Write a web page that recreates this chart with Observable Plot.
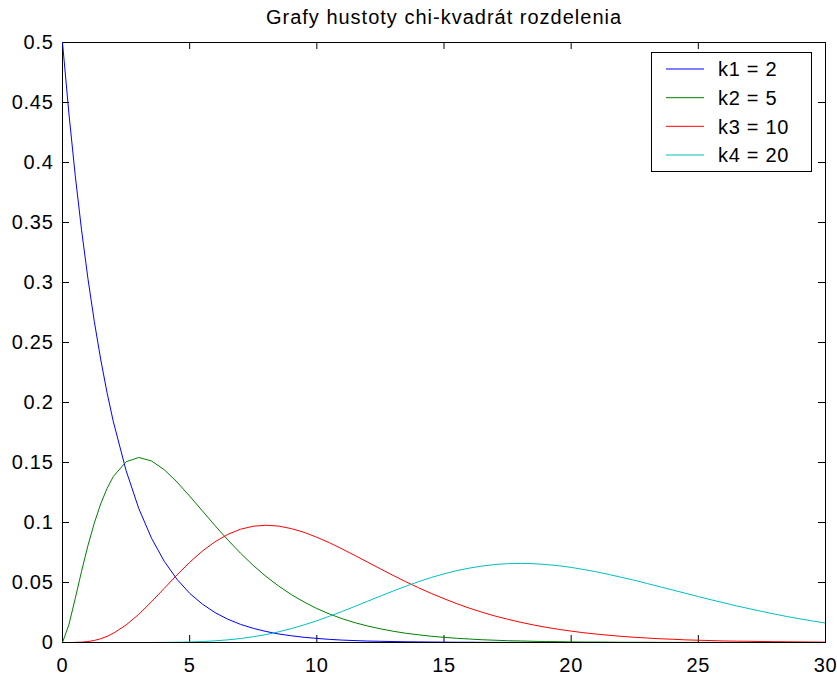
<!DOCTYPE html>
<html>
<head>
<meta charset="utf-8">
<script src="https://cdn.jsdelivr.net/npm/d3@7"></script>
<script src="https://cdn.jsdelivr.net/npm/@observablehq/plot@0.6"></script>
<style>
  body { margin: 0; background: #fff; }
  #wrap { position: relative; width: 837px; height: 676px; font-family: "Liberation Sans", Arial, sans-serif; }
  #legend { position: absolute; left: 651px; top: 52px; }
</style>
</head>
<body>
<div id="wrap"><div id="chart"></div><div id="legend"></div></div>
<script>
const title = "Grafy hustoty chi-kvadrát rozdelenia";
const seriesNames = ["k1 = 2", "k2 = 5", "k3 = 10", "k4 = 20"];
const seriesColors = ["#0000ff", "#008000", "#ff0000", "#00bfbf"];

const xTicks = [0, 5, 10, 15, 20, 25, 30];
const xTickLabels = ["0", "5", "10", "15", "20", "25", "30"];
const yTicks = [0, 0.05, 0.1, 0.15, 0.2, 0.25, 0.3, 0.35, 0.4, 0.45, 0.5];
const yTickLabels = ["0", "0.05", "0.1", "0.15", "0.2", "0.25", "0.3", "0.35", "0.4", "0.45", "0.5"];

const xs = [0, 0.25, 0.5, 0.75, 1, 1.25, 1.5, 1.75, 2,
  2.5, 3, 3.5, 4, 4.5, 5, 5.5, 6, 6.5, 7, 7.5, 8, 8.5, 9, 9.5, 10,
  10.5, 11, 11.5, 12, 12.5, 13, 13.5, 14, 14.5, 15, 15.5, 16, 16.5, 17, 17.5, 18,
  18.5, 19, 19.5, 20, 20.5, 21, 21.5, 22, 22.5, 23, 23.5, 24, 24.5, 25,
  25.5, 26, 26.5, 27, 27.5, 28, 28.5, 29, 29.5, 30];

const k1 = [0.5000, 0.4413, 0.3894, 0.3436, 0.3033, 0.2676, 0.2362, 0.2084, 0.1839,
  0.1433, 0.1116, 0.0869, 0.0677, 0.0527, 0.0410, 0.0320, 0.0249, 0.0194, 0.0151, 0.0118, 0.0092, 0.0071, 0.0056, 0.0043, 0.0034,
  0.0026, 0.0020, 0.0016, 0.0012, 0.0010, 0.0008, 0.0006, 0.0005, 0.0004, 0.0003, 0.0002, 0.0002, 0.0001, 0.0001, 0.0001, 0.0001,
  0, 0, 0, 0, 0, 0, 0, 0, 0, 0, 0, 0, 0, 0,
  0, 0, 0, 0, 0, 0, 0, 0, 0, 0];

const k2 = [0, 0.0147, 0.0366, 0.0594, 0.0807, 0.0995, 0.1154, 0.1283, 0.1384,
  0.1506, 0.1542, 0.1513, 0.1440, 0.1338, 0.1220, 0.1097, 0.0973, 0.0855, 0.0744, 0.0642, 0.0551, 0.0470, 0.0399, 0.0337, 0.0283,
  0.0237, 0.0198, 0.0165, 0.0137, 0.0114, 0.0094, 0.0077, 0.0064, 0.0052, 0.0043, 0.0035, 0.0029, 0.0023, 0.0019, 0.0015, 0.0013,
  0.0010, 0.0008, 0.0007, 0.0005, 0.0004, 0.0004, 0.0003, 0.0002, 0.0002, 0.0002, 0.0001, 0.0001, 0.0001, 0.0001,
  0.0001, 0, 0, 0, 0, 0, 0, 0, 0, 0];

const k3 = [0, 0.0000, 0.0001, 0.0003, 0.0008, 0.0017, 0.0031, 0.0051, 0.0077,
  0.0146, 0.0235, 0.0340, 0.0451, 0.0563, 0.0668, 0.0762, 0.0840, 0.0901, 0.0944, 0.0969, 0.0977, 0.0970, 0.0949, 0.0918, 0.0877,
  0.0831, 0.0779, 0.0725, 0.0669, 0.0614, 0.0559, 0.0506, 0.0456, 0.0409, 0.0365, 0.0324, 0.0286, 0.0252, 0.0221, 0.0194, 0.0169,
  0.0147, 0.0127, 0.0110, 0.0095, 0.0081, 0.0070, 0.0060, 0.0051, 0.0043, 0.0037, 0.0031, 0.0027, 0.0022, 0.0019,
  0.0016, 0.0013, 0.0011, 0.0010, 0.0008, 0.0007, 0.0006, 0.0005, 0.0004, 0.0003];

const k4 = [0, 0, 0, 0, 0, 0, 0, 0, 0,
  0.0000, 0.0000, 0.0000, 0.0001, 0.0002, 0.0004, 0.0008, 0.0014, 0.0022, 0.0033, 0.0048, 0.0066, 0.0089, 0.0116, 0.0147, 0.0181,
  0.0219, 0.0259, 0.0301, 0.0344, 0.0387, 0.0429, 0.0469, 0.0507, 0.0542, 0.0572, 0.0599, 0.0620, 0.0637, 0.0650, 0.0657, 0.0659,
  0.0657, 0.0650, 0.0640, 0.0626, 0.0608, 0.0589, 0.0566, 0.0542, 0.0518, 0.0491, 0.0464, 0.0437, 0.0410, 0.0383,
  0.0356, 0.0331, 0.0305, 0.0282, 0.0259, 0.0237, 0.0216, 0.0197, 0.0179, 0.0162];

const seriesValues = [k1, k2, k3, k4];

const W = 837, H = 676;
const mL = 62, mR = 12, mT = 42, mB = 34;
const innerW = W - mL - mR, innerH = H - mT - mB;
const tickLen = 7;

const lineMarks = seriesValues.map((vals, s) =>
  Plot.line(xs.map((x, i) => ({x, y: vals[i]})), {
    x: "x", y: "y", stroke: seriesColors[s], strokeWidth: 1, clip: true
  })
);

const chart = Plot.plot({
  width: W, height: H,
  marginLeft: mL, marginRight: mR, marginTop: mT, marginBottom: mB,
  style: "font-family: 'Liberation Sans', Arial, sans-serif; font-size: 20px; letter-spacing: 0.7px; background: #fff; color: #000;",
  x: {domain: [0, 30]},
  y: {domain: [0, 0.5]},
  marks: [
    Plot.frame({stroke: "#000", strokeWidth: 1}),
    Plot.tickY(yTicks, {y: d => d, stroke: "#000", insetRight: innerW - tickLen}),
    Plot.tickY(yTicks, {y: d => d, stroke: "#000", insetLeft: innerW - tickLen}),
    Plot.tickX(xTicks, {x: d => d, stroke: "#000", insetTop: innerH - tickLen}),
    Plot.tickX(xTicks, {x: d => d, stroke: "#000", insetBottom: innerH - tickLen}),
    Plot.axisX(xTicks, {tickSize: 0, tickPadding: 15, label: null, tickFormat: (d) => xTickLabels[xTicks.indexOf(d)], fontSize: 20}),
    Plot.axisY(yTicks, {tickSize: 0, tickPadding: 9, label: null, tickFormat: (d) => yTickLabels[yTicks.indexOf(d)], fontSize: 20}),
    ...lineMarks,
    Plot.text([title], {text: d => d, frameAnchor: "top", lineAnchor: "bottom", dy: -19, fontSize: 20, style: "letter-spacing: 1px"})
  ]
});
document.getElementById("chart").appendChild(chart);
chart.querySelectorAll("text").forEach(t => { if (t.textContent === title) t.style.letterSpacing = "1px"; });

// Legend
const lw = 161, lh = 120;
const rowY = [17, 45.7, 74.3, 103];
const leg = d3.select("#legend").append("svg")
  .attr("width", lw).attr("height", lh)
  .style("display", "block")
  .style("font-family", "'Liberation Sans', Arial, sans-serif")
  .style("font-size", "20px")
  .style("letter-spacing", "0.7px");
leg.append("rect").attr("x", 0.5).attr("y", 0.5).attr("width", lw - 1).attr("height", lh - 1)
  .attr("fill", "#fff").attr("stroke", "#000");
seriesNames.forEach((name, i) => {
  leg.append("line").attr("x1", 15).attr("x2", 53).attr("y1", rowY[i]).attr("y2", rowY[i])
    .attr("stroke", seriesColors[i]).attr("stroke-width", 1);
  leg.append("text").attr("x", 67).attr("y", rowY[i]).attr("dy", "0.36em").attr("fill", "#000").text(name);
});
</script>
</body>
</html>
